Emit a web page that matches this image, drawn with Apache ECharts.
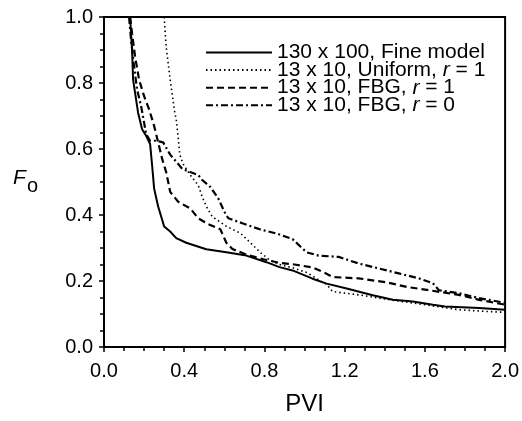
<!DOCTYPE html>
<html>
<head>
<meta charset="utf-8">
<script src="https://cdn.jsdelivr.net/npm/echarts@6/dist/echarts.min.js"></script>
<style>
html,body{margin:0;padding:0;background:#fff;}
#c{width:522px;height:421px;}
</style>
</head>
<body>
<div id="c"></div>
<script>
const xTicks = [0.0, 0.4, 0.8, 1.2, 1.6, 2.0];
const yTicks = [0.0, 0.2, 0.4, 0.6, 0.8, 1.0];
const seriesNames = ['130 x 100, Fine model', '13 x 10, Uniform, r = 1', '13 x 10, FBG, r = 1', '13 x 10, FBG, r = 0'];

const fineModel = [[0.13,1.0],[0.14,0.9],[0.145,0.81],[0.155,0.77],[0.17,0.71],[0.19,0.66],[0.21,0.64],[0.23,0.615],[0.24,0.55],[0.25,0.48],[0.27,0.426],[0.3,0.365],[0.33,0.35],[0.36,0.33],[0.41,0.316],[0.51,0.296],[0.61,0.287],[0.71,0.277],[0.81,0.257],[0.875,0.242],[0.94,0.232],[1.04,0.207],[1.11,0.192],[1.21,0.177],[1.34,0.157],[1.44,0.143],[1.54,0.138],[1.64,0.128],[1.7,0.123],[1.87,0.118],[2.0,0.113]];

const uniformR1 = [[0.30,1.0],[0.31,0.91],[0.33,0.81],[0.353,0.71],[0.36,0.69],[0.37,0.634],[0.378,0.583],[0.395,0.554],[0.43,0.521],[0.47,0.49],[0.49,0.455],[0.51,0.426],[0.54,0.395],[0.61,0.366],[0.68,0.345],[0.73,0.316],[0.78,0.286],[0.83,0.262],[0.875,0.25],[0.94,0.24],[1.01,0.226],[1.08,0.2],[1.11,0.19],[1.14,0.168],[1.27,0.158],[1.37,0.148],[1.44,0.142],[1.6,0.128],[1.77,0.113],[1.9,0.108],[2.0,0.105]];

const fbgR1 = [[0.13,1.0],[0.14,0.95],[0.155,0.88],[0.175,0.81],[0.2,0.76],[0.225,0.72],[0.25,0.67],[0.27,0.62],[0.29,0.57],[0.31,0.53],[0.33,0.47],[0.37,0.44],[0.43,0.42],[0.47,0.39],[0.52,0.372],[0.58,0.357],[0.61,0.316],[0.64,0.297],[0.71,0.28],[0.8,0.265],[0.875,0.255],[0.95,0.25],[1.04,0.241],[1.1,0.225],[1.14,0.212],[1.27,0.208],[1.41,0.196],[1.51,0.182],[1.61,0.173],[1.77,0.158],[1.87,0.143],[2.0,0.128]];

const fbgR0 = [[0.125,1.0],[0.135,0.93],[0.15,0.85],[0.165,0.78],[0.185,0.73],[0.2,0.68],[0.21,0.645],[0.23,0.625],[0.26,0.625],[0.295,0.62],[0.33,0.583],[0.39,0.54],[0.41,0.535],[0.47,0.521],[0.49,0.506],[0.53,0.485],[0.57,0.45],[0.6,0.41],[0.62,0.39],[0.69,0.375],[0.78,0.356],[0.86,0.344],[0.94,0.327],[1.01,0.287],[1.07,0.277],[1.17,0.273],[1.27,0.253],[1.37,0.238],[1.47,0.223],[1.57,0.208],[1.64,0.193],[1.67,0.172],[1.77,0.163],[1.87,0.148],[2.0,0.134]];

const FONT = '"Liberation Sans", Arial, Helvetica, sans-serif';
const chart = echarts.init(document.getElementById('c'), null, {renderer: 'canvas'});

function mk(name, data, type, width) {
  return {
    name: name, type: 'line', data: data, showSymbol: false, symbol: 'none',
    smooth: false, animation: false,
    lineStyle: {color: '#000', width: width, type: type, cap: 'butt'},
    itemStyle: {color: '#000'}
  };
}

const option = {
  animation: false,
  backgroundColor: '#fff',
  grid: {left: 104, right: 16, top: 17, bottom: 68, show: true, borderColor: '#000', borderWidth: 2, backgroundColor: 'transparent'},
  legend: {
    show: true,
    left: 205, top: 42, orient: 'vertical', itemWidth: 66, itemHeight: 14, itemGap: -3.4, padding: 0,
    itemStyle: {color: 'transparent', borderColor: 'transparent', borderWidth: 0, opacity: 0},
    data: seriesNames,
    formatter: function (n) { return n.replace(/r = (\d)/, '{i|r} = $1'); },
    textStyle: {fontFamily: FONT, fontSize: 21, color: '#000',
      rich: {i: {fontFamily: FONT, fontSize: 21, fontStyle: 'italic', color: '#000'}}}
  },
  xAxis: {
    type: 'value', min: xTicks[0], max: xTicks[xTicks.length-1], interval: 0.4,
    name: 'PVI', nameLocation: 'middle', nameGap: 45,
    nameTextStyle: {fontFamily: FONT, fontSize: 24, color: '#000'},
    axisLine: {show: true, onZero: false, lineStyle: {color: '#000', width: 2}},
    axisTick: {show: true, inside: false, length: 5, lineStyle: {color: '#000', width: 1.5}},
    minorTick: {show: true, splitNumber: 4, length: 4, lineStyle: {color: '#000', width: 1.5}},
    splitLine: {show: false},
    axisLabel: {fontFamily: FONT, fontSize: 20, color: '#000', margin: 14, formatter: function (v) { return v.toFixed(1); }}
  },
  yAxis: {
    type: 'value', min: yTicks[0], max: yTicks[yTicks.length-1], interval: 0.2,
    name: '{f|F}{s|o}', nameLocation: 'middle', nameRotate: 0, nameGap: 66,
    nameTextStyle: {fontFamily: FONT, color: '#000', rich: {
      f: {fontFamily: FONT, fontSize: 21, fontStyle: 'italic', color: '#000', padding: [0, 0, 8, 0]},
      s: {fontFamily: FONT, fontSize: 20, color: '#000', padding: [8, 0, 0, 1]}
    }},
    axisLine: {show: true, onZero: false, lineStyle: {color: '#000', width: 2}},
    axisTick: {show: true, inside: false, length: 5, lineStyle: {color: '#000', width: 1.5}},
    minorTick: {show: true, splitNumber: 4, length: 4, lineStyle: {color: '#000', width: 1.5}},
    splitLine: {show: false},
    axisLabel: {fontFamily: FONT, fontSize: 20, color: '#000', margin: 11, formatter: function (v) { return v.toFixed(1); }}
  },
  series: [
    mk(seriesNames[0], fineModel, 'solid', 2),
    mk(seriesNames[1], uniformR1, [1.5, 3], 1.6),
    mk(seriesNames[2], fbgR1, [7, 4], 2.2),
    mk(seriesNames[3], fbgR0, [7, 3, 2, 3], 2.2)
  ]
};
chart.setOption(option);
</script>
</body>
</html>
